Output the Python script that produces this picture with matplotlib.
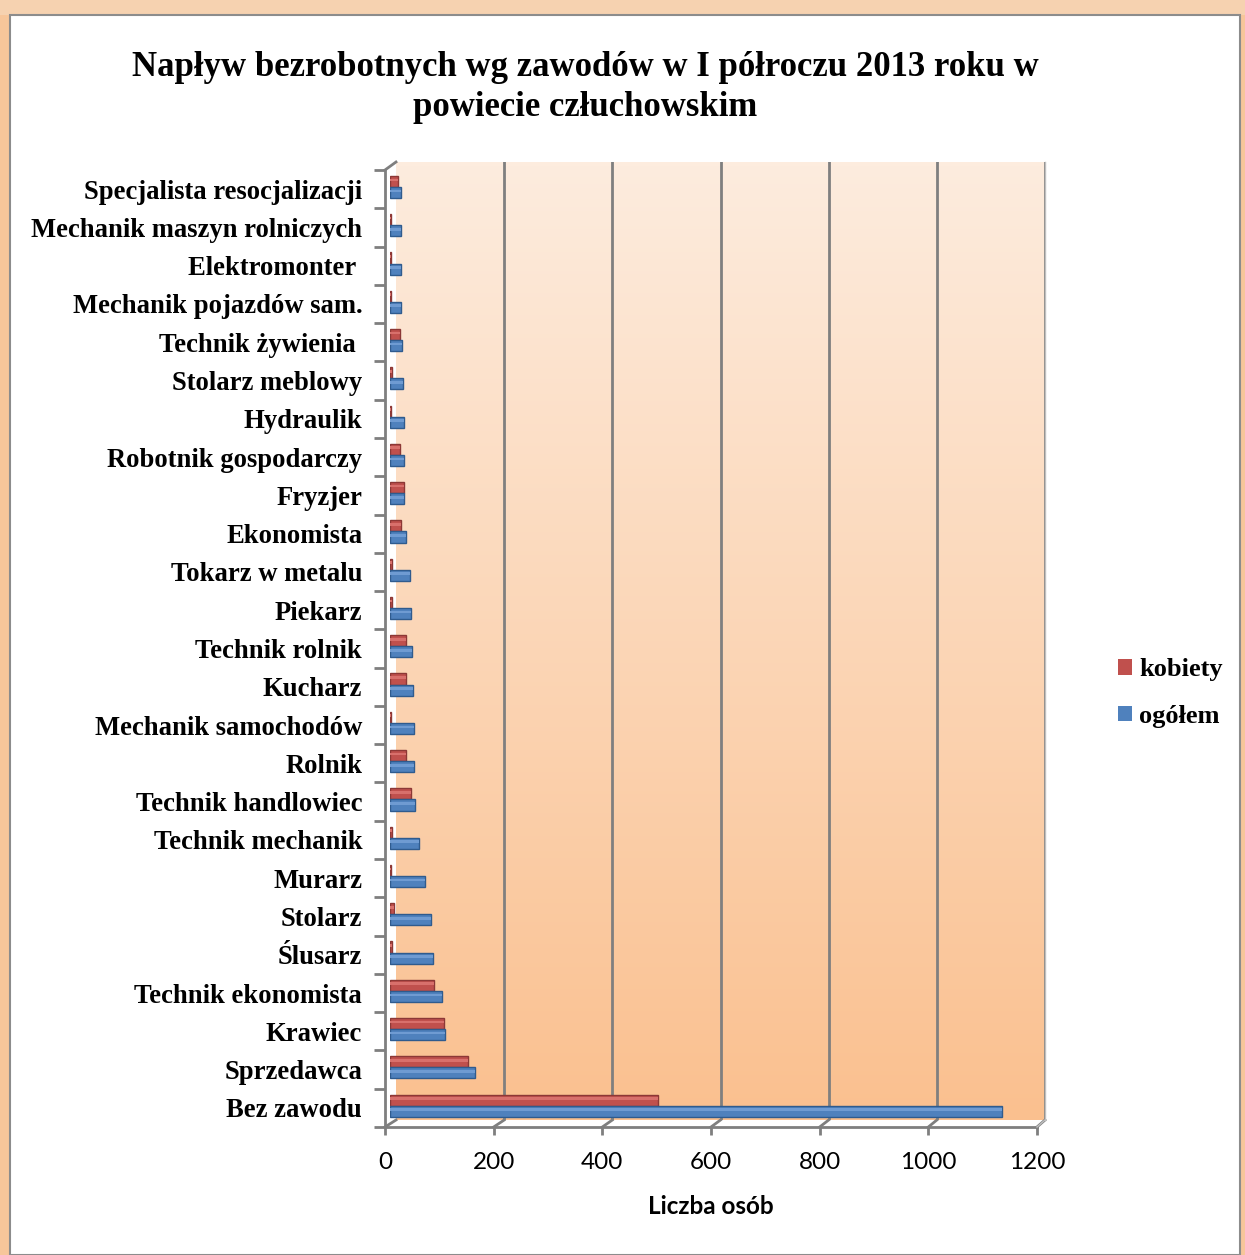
import numpy as np
import matplotlib
matplotlib.use("Agg")
import matplotlib.pyplot as plt
import matplotlib.transforms as mtransforms
from matplotlib.patches import Rectangle, Patch
from matplotlib.lines import Line2D

# data (top to bottom as in the chart)
zawody = ["Specjalista resocjalizacji", "Mechanik maszyn rolniczych", "Elektromonter ",
          "Mechanik pojazdów sam.", "Technik żywienia ", "Stolarz meblowy", "Hydraulik",
          "Robotnik gospodarczy", "Fryzjer", "Ekonomista", "Tokarz w metalu", "Piekarz",
          "Technik rolnik", "Kucharz", "Mechanik samochodów", "Rolnik", "Technik handlowiec",
          "Technik mechanik", "Murarz", "Stolarz", "Ślusarz", "Technik ekonomista",
          "Krawiec", "Sprzedawca", "Bez zawodu"]
kobiety = [14, 2, 2, 2, 18, 4, 2, 18, 25, 21, 4, 4, 30, 29, 1, 29, 38,
           3, 2, 7, 4, 82, 99, 144, 494]
ogolem = [21, 21, 21, 20, 23, 24, 25, 25, 26, 30, 37, 38, 41, 43, 44, 45, 47,
          54, 65, 76, 79, 96, 101, 156, 1128]
xticks = [0, 200, 400, 600, 800, 1000, 1200]

W, H = 1245, 1255
fig = plt.figure(figsize=(W / 100, H / 100), dpi=100)
fig.patch.set_facecolor("#f7c69a")

def fx(px):
    return px / W

def fy(py):
    return 1 - py / H

# white chart area with gray border
fig.patches.append(Rectangle((0, fy(15)), 1, 1 - fy(15), transform=fig.transFigure,
                             facecolor="#f6d2b0", edgecolor="none", zorder=-11))
fig.patches.append(Rectangle((fx(10), 0), fx(1240) - fx(10), fy(15), transform=fig.transFigure,
                             facecolor="white", edgecolor="#8c8c8c", lw=1.5, zorder=-10))

# back wall with gradient
wall = fig.add_axes([fx(396), fy(1120), fx(1045) - fx(396), fy(162) - fy(1120)])
grad = np.linspace(0, 1, 256).reshape(-1, 1)
top = np.array([253, 236, 222]) / 255
bot = np.array([250, 192, 143]) / 255
img = top + (bot - top) * grad[:, :, None]
wall.imshow(img, extent=[0, 1200, 0, 1], aspect="auto", origin="upper", zorder=0)
wall.set_xlim(0, 1200)
wall.set_ylim(0, 1)
for x in xticks[1:]:
    wall.axvline(x, color="#7f7f7f", lw=2, zorder=1)
wall.set_xticks([])
wall.set_yticks([])
for s in wall.spines.values():
    s.set_visible(False)

# front axes: spines and ticks
front = fig.add_axes([fx(385), fy(1127), fx(1037) - fx(385), fy(170) - fy(1127)])
front.patch.set_alpha(0)
n = len(zawody)
ypos = np.arange(n)[::-1]
front.set_xlim(0, 1200)
front.set_ylim(-0.5, n - 0.5)
front.set_xticks(xticks)
front.set_xticklabels([str(v) for v in xticks], family="Lato", fontsize=17.5)
front.set_yticks(np.arange(n + 1) - 0.5, minor=False)
front.set_yticklabels([])
front.tick_params(axis="y", length=8, width=2, color="#7f7f7f", direction="out")
front.tick_params(axis="x", length=6, width=2, color="#7f7f7f", direction="out", pad=12)
for side in ["top", "right"]:
    front.spines[side].set_visible(False)
for side in ["left", "bottom"]:
    front.spines[side].set_color("#7f7f7f")
    front.spines[side].set_linewidth(2)
front.set_xlabel("Liczba osób", family="Lato", fontweight="bold", fontsize=17.5, labelpad=16)
shift = mtransforms.ScaledTranslation(0, -3 / 100, fig.dpi_scale_trans)
for i, name in enumerate(zawody):
    front.text(-0.035, ypos[i], name, transform=front.get_yaxis_transform() + shift, ha="right",
               va="center", family="Liberation Serif", fontweight="bold", fontsize=19.2)

# floor diagonals
for k in range(7):
    x0 = 385 + k * (1037 - 385) / 6
    x1 = 396 + k * (1045 - 396) / 6
    fig.lines.append(Line2D([fx(x0), fx(x1)], [fy(1127), fy(1120)], transform=fig.transFigure,
                            color="#7f7f7f", lw=2))
fig.lines.append(Line2D([fx(385), fx(396)], [fy(170), fy(162)], transform=fig.transFigure,
                        color="#7f7f7f", lw=2))
fig.lines.append(Line2D([fx(1045), fx(1045)], [fy(162), fy(1120)], transform=fig.transFigure,
                        color="#bfbfbf", lw=1))
fig.lines.append(Line2D([fx(1037), fx(1045)], [fy(1127), fy(1120)], transform=fig.transFigure,
                        color="#bfbfbf", lw=1))

# bars (mid depth)
bars = fig.add_axes([fx(390), fy(1125), fx(1041) - fx(390), fy(168) - fy(1125)])
bars.patch.set_alpha(0)
bars.set_xlim(0, 1200)
bars.set_ylim(-0.5, n - 0.5)
bars.axis("off")
h = 0.29
bars.barh(ypos + 0.15, kobiety, height=h, color="#c0504d", edgecolor="#8c3836", lw=1.0)
bars.barh(ypos - 0.14, ogolem, height=h, color="#4f81bd", edgecolor="#2f5b8e", lw=1.0)
bars.barh(ypos + 0.19, kobiety, height=0.07, color="#d8706c", edgecolor="none")
bars.barh(ypos - 0.10, ogolem, height=0.07, color="#6f9bd2", edgecolor="none")

# title
fig.text(fx(585), fy(68), "Napływ bezrobotnych wg zawodów w I półroczu 2013 roku w",
         ha="center", va="center", family="Liberation Serif", fontweight="bold", fontsize=25)
fig.text(fx(585), fy(108), "powiecie człuchowskim",
         ha="center", va="center", family="Liberation Serif", fontweight="bold", fontsize=25)

# legend
handles = [Patch(facecolor="#c0504d", label="kobiety"), Patch(facecolor="#4f81bd", label="ogółem")]
fig.legend(handles=handles, loc="center left", bbox_to_anchor=(fx(1094), fy(693)), frameon=False,
           prop={"family": "Liberation Serif", "weight": "bold", "size": 19},
           handlelength=0.55, handleheight=0.55, handletextpad=0.25, labelspacing=0.9)

fig.savefig("out.png", dpi=100, facecolor=fig.get_facecolor())
